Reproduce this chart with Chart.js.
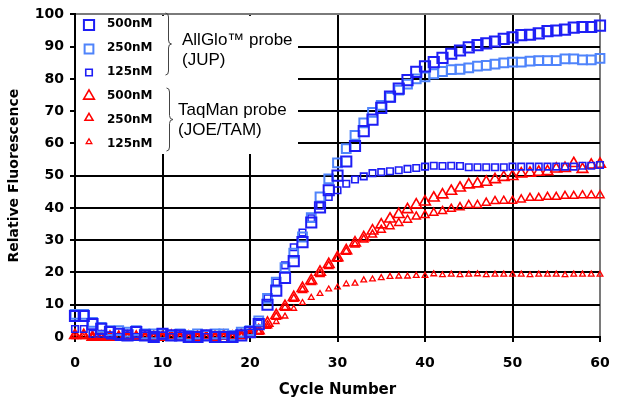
<!DOCTYPE html>
<html>
<head>
<meta charset="utf-8">
<title>Relative Fluorescence vs Cycle Number</title>
<script src="https://cdn.jsdelivr.net/npm/chart.js@4/dist/chart.umd.min.js"></script>
<style>
  html, body { margin: 0; padding: 0; background: #fff; }
  #wrap { position: relative; width: 633px; height: 405px; }
  canvas { display: block; }
</style>
</head>
<body>
<div id="wrap"><canvas id="chart" width="633" height="405"></canvas></div>
<script>
// PCR cycle numbers
const cycles = [
  0, 1, 2, 3, 4, 5, 6, 7, 8, 9,
  10, 11, 12, 13, 14, 15, 16, 17, 18, 19,
  20, 21, 22, 23, 24, 25, 26, 27, 28, 29,
  30, 31, 32, 33, 34, 35, 36, 37, 38, 39,
  40, 41, 42, 43, 44, 45, 46, 47, 48, 49,
  50, 51, 52, 53, 54, 55, 56, 57, 58, 59,
  60
];

// AllGlo probe (JUP), relative fluorescence per cycle
const allGlo500 = [
  6.5, 6.5, 4, 2.5, 1.5, 1, 0.5, 1.5, 0.5, 0,
  1, 0.5, 0.5, 0, 0, 0.5, 0, 0, 0, 0.5,
  1.5, 4, 10, 14.4, 18.3, 23.5, 29.4, 35.5, 40.2, 45.5,
  50, 54.4, 59.2, 63.8, 67.4, 71, 74.5, 77, 79.6, 82.2,
  83.9, 85.2, 86.5, 87.8, 88.8, 89.8, 90.5, 91, 91.6, 92.4,
  92.9, 93.6, 93.7, 94.1, 94.8, 95, 95.3, 95.9, 96.1, 96.1,
  96.5
];
const allGlo250 = [
  7, 7, 4.5, 3, 2, 2, 1.5, 2, 1, 1,
  1, 0.5, 1, 0.5, 1, 0.5, 1, 1, 0.5, 1.5,
  2, 5, 12, 17, 21.5, 26, 31, 37, 43.4, 49,
  54, 58.4, 62.5, 66.4, 69.6, 71.8, 74.3, 76.5, 78.4, 80,
  80.6, 81.6, 82.3, 82.9, 83, 83.4, 84, 84.2, 84.6, 85,
  85.2, 85.2, 85.5, 85.7, 85.7, 85.7, 86.2, 86.2, 85.9, 85.9,
  86.4
];
const allGlo125 = [
  2.5, 2.5, 1, 1, 0.5, 0, 0.5, 0, 0.5, 0,
  0.5, 0, 0.5, 0, 0.5, 0, 0.5, 0.5, 0, 1,
  1.4, 4.2, 12, 16.9, 22.2, 27.8, 32.4, 36.8, 40.7, 43.4,
  45.5, 47.5, 48.8, 49.8, 50.8, 51.1, 51.4, 51.7, 52.1, 52.4,
  52.8, 53.1, 53, 53.1, 53, 52.6, 52.6, 52.6, 52.6, 52.6,
  52.8, 52.8, 52.8, 52.8, 52.8, 52.8, 52.8, 52.8, 53.1, 53.1,
  53.3
];

// TaqMan probe (JOE/TAM), relative fluorescence per cycle
const taqMan500 = [
  0.5, 0.5, 0, 0, 0, 0, 0, 0, 0, 0,
  0, 0.3, 0, 0, 0, 0, 0, 0.3, 0, 0.5,
  1, 2, 4.3, 6.7, 9.5, 12.3, 15.1, 17.5, 20.1, 22.5,
  24.6, 26.8, 29.2, 30.8, 32.9, 34.8, 36.6, 38, 39.5, 41,
  41.9, 43.1, 44.1, 45.2, 46.2, 47.2, 47.5, 48, 48.8, 49.5,
  49.8, 50.6, 50.8, 51.1, 51.3, 52.1, 52.3, 53.8, 52, 53.3,
  53.6
];
const taqMan250 = [
  0.5, 0.5, 0, 0, 0, 0, 0, 0, 0, 0,
  0, 0, 0, 0, 0, 0, 0, 0, 0, 0.3,
  0.8, 1.6, 3.6, 6.2, 9, 11.8, 14.5, 17, 19.5, 22,
  24.2, 26.4, 28.6, 30.2, 31.7, 33.2, 34.3, 35.3, 36.3, 37.3,
  37.8, 38.5, 39, 39.7, 40.2, 40.9, 40.9, 41.6, 42.1, 42.2,
  42.2, 42.6, 43.1, 43.1, 43.4, 43.4, 43.7, 43.7, 43.9, 43.9,
  43.9
];
const taqMan125 = [
  0, 0, 0, 0, 0, 0, 0, 0, 0, 0,
  0, 0, 0, 0, 0, 0, 0, 0, 0, 0.3,
  0.8, 1.6, 3.2, 4.7, 6.4, 8.8, 10.6, 12.2, 13.4, 14.8,
  15.4, 16.4, 16.6, 17.6, 17.9, 18.3, 18.7, 18.8, 18.8, 19,
  19, 19.5, 19.2, 19.4, 19.2, 19.4, 19.5, 19.2, 19.4, 19.4,
  19.4, 19.4, 19.2, 19.4, 19.4, 19.4, 19.2, 19.4, 19.4, 19.4,
  19.4
];

// Axis tick values
const xTicks = [0, 10, 20, 30, 40, 50, 60];
const yTicks = [0, 10, 20, 30, 40, 50, 60, 70, 80, 90, 100];

// Legend text
const concLabels = ['500nM', '250nM', '125nM'];
const probeGroups = [
  ['AllGlo\u2122 probe', '(JUP)'],
  ['TaqMan probe', '(JOE/TAM)']
];

const DARK_BLUE = '#1e1ef5';
const LIGHT_BLUE = '#4f84fb';
const RED = '#ff0000';

// marker settings per series: [pointStyle, radius, colour, line width]
const seriesStyles = [
  ['rect', 7.2, DARK_BLUE, 2],
  ['rect', 6.2, LIGHT_BLUE, 2],
  ['rect', 4.6, DARK_BLUE, 1.6],
  ['triangle', 6.2, RED, 1.6],
  ['triangle', 4.7, RED, 1.5],
  ['triangle', 3.3, RED, 1.3]
];
const seriesValues = [allGlo500, allGlo250, allGlo125, taqMan500, taqMan250, taqMan125];
const seriesNames = [
  'AllGlo 500nM', 'AllGlo 250nM', 'AllGlo 125nM',
  'TaqMan 500nM', 'TaqMan 250nM', 'TaqMan 125nM'
];

const toPoints = vals => cycles.map((c, i) => ({ x: c, y: vals[i] }));

const datasets = seriesValues.map((vals, i) => {
  const [style, r, color, lw] = seriesStyles[i];
  return {
    label: seriesNames[i],
    data: toPoints(vals),
    showLine: false,
    pointStyle: style,
    pointRadius: r,
    pointHoverRadius: r,
    pointBorderColor: color,
    pointBackgroundColor: 'rgba(255,255,255,0)',
    pointBorderWidth: lw,
    clip: false
  };
});

// Marker shapes identical to the ones the library draws for its points
function drawMarker(ctx, style, x, y, r, color, lw) {
  ctx.save();
  ctx.strokeStyle = color;
  ctx.lineWidth = lw;
  ctx.beginPath();
  if (style === 'rect') {
    const s = r * Math.SQRT1_2;
    ctx.rect(x - s, y - s, 2 * s, 2 * s);
  } else {
    ctx.moveTo(x, y - r);
    ctx.lineTo(x + Math.sin(Math.PI * 2 / 3) * r, y + r / 2);
    ctx.lineTo(x - Math.sin(Math.PI * 2 / 3) * r, y + r / 2);
    ctx.closePath();
  }
  ctx.stroke();
  ctx.restore();
}

function drawBrace(ctx, x, top, bottom, tip) {
  const mid = (top + bottom) / 2;
  ctx.beginPath();
  ctx.moveTo(x - 3, top);
  ctx.quadraticCurveTo(x, top, x, top + 4);
  ctx.lineTo(x, mid - 4);
  ctx.quadraticCurveTo(x, mid, x + tip, mid);
  ctx.quadraticCurveTo(x, mid, x, mid + 4);
  ctx.lineTo(x, bottom - 4);
  ctx.quadraticCurveTo(x, bottom, x - 3, bottom);
  ctx.stroke();
}

// Legend panel with bracketed probe groups, in the upper left of the plot
const probeLegend = {
  id: 'probeLegend',
  beforeDatasetsDraw(chart) {
    const { ctx, chartArea } = chart;
    ctx.save();
    ctx.fillStyle = '#ffffff';
    ctx.fillRect(chartArea.left + 1, chartArea.top + 1.5, 298 - chartArea.left - 1, 154 - chartArea.top - 1.5);
    ctx.restore();
  },
  afterDatasetsDraw(chart) {
    const { ctx } = chart;
    const markerX = 89;
    const textX = 107;
    const markerY = [25, 49, 72.5, 96, 118, 142];
    const textBase = [27, 51, 74.5, 98.5, 122.5, 146.5];
    ctx.save();
    seriesStyles.forEach((st, i) => {
      const [style, r, color, lw] = st;
      drawMarker(ctx, style, markerX, markerY[i], r, color, lw);
      ctx.fillStyle = '#000';
      ctx.font = 'bold 12px "DejaVu Sans"';
      ctx.textBaseline = 'alphabetic';
      ctx.textAlign = 'left';
      ctx.fillText(concLabels[i % 3], textX, textBase[i]);
    });

    ctx.strokeStyle = '#444';
    ctx.lineWidth = 1;
    drawBrace(ctx, 168.5, 13, 75, 3);
    drawBrace(ctx, 169.5, 88, 151, 3.5);

    ctx.fillStyle = '#000';
    ctx.font = '17px "Liberation Sans", Arial, sans-serif';
    ctx.fillText(probeGroups[0][0], 182, 45);
    ctx.fillText(probeGroups[0][1], 182, 64.5);
    ctx.fillText(probeGroups[1][0], 178, 115);
    ctx.fillText(probeGroups[1][1], 178, 135);
    ctx.restore();
  }
};

const tickFont = { family: 'DejaVu Sans', size: 14, weight: 'bold' };

new Chart(document.getElementById('chart'), {
  type: 'line',
  data: { datasets },
  plugins: [probeLegend],
  options: {
    responsive: false,
    animation: false,
    devicePixelRatio: 1,
    events: [],
    layout: { padding: { left: 0, right: 33, top: 2, bottom: 0 } },
    plugins: { legend: { display: false }, tooltip: { enabled: false } },
    scales: {
      x: {
        type: 'linear',
        min: 0,
        max: 60,
        afterFit: s => { s.height = 68; },
        afterBuildTicks: s => { s.ticks = xTicks.map(v => ({ value: v })); },
        grid: {
          color: c => (c.tick && c.tick.value === 60 ? '#7a7a7a' : '#000'),
          lineWidth: 2,
          tickLength: 5,
          tickColor: '#000',
          tickWidth: 2
        },
        border: { display: true, color: '#000', width: 2 },
        ticks: { color: '#000', font: tickFont, padding: 13, maxRotation: 0 },
        title: {
          display: true,
          text: 'Cycle Number',
          color: '#000',
          font: { family: 'DejaVu Sans', size: 15, weight: 'bold' },
          padding: { top: 0, bottom: 6 }
        }
      },
      y: {
        type: 'linear',
        min: 0,
        max: 100,
        afterFit: s => { s.width = 75; },
        afterBuildTicks: s => { s.ticks = yTicks.map(v => ({ value: v })); },
        grid: {
          color: c => (c.tick && c.tick.value === 100 ? '#7a7a7a' : '#000'),
          lineWidth: 2,
          tickLength: 5,
          tickColor: '#000',
          tickWidth: 2
        },
        border: { display: true, color: '#000', width: 2 },
        ticks: { color: '#000', font: tickFont, padding: 6 },
        title: {
          display: true,
          text: 'Relative Fluorescence',
          color: '#000',
          font: { family: 'DejaVu Sans', size: 14, weight: 'bold' },
          padding: { top: 6, bottom: 0 }
        }
      }
    }
  }
});
</script>
</body>
</html>
